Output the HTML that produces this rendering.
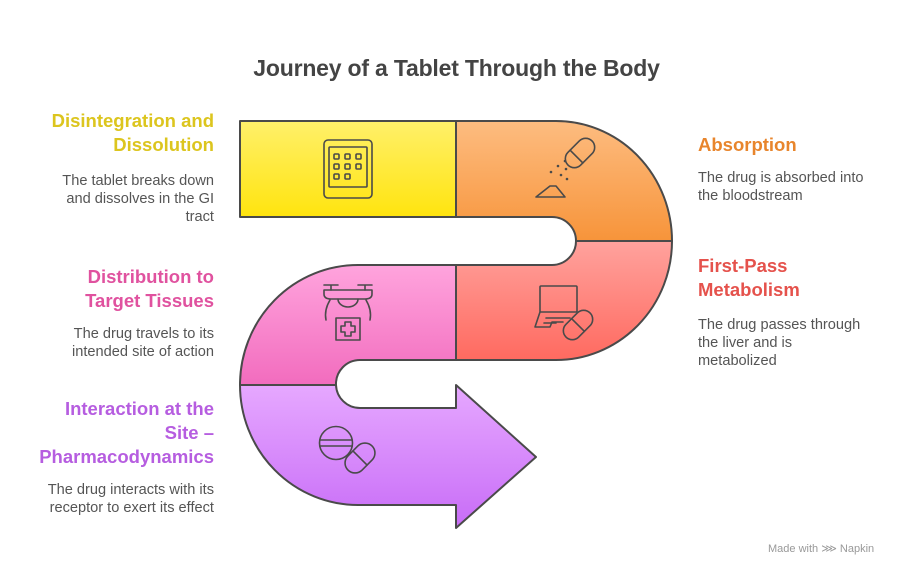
<!DOCTYPE html>
<html><head><meta charset="utf-8"><style>
body{margin:0;width:901px;height:577px;background:#fff;position:relative;overflow:hidden;font-family:"Liberation Sans",Arial,sans-serif}
.t{position:absolute;left:0;width:913px;text-align:center;top:53px;font-size:23px;font-weight:bold;color:#444;line-height:30px;letter-spacing:-0.2px}
.h{position:absolute;font-size:18.5px;font-weight:bold;line-height:24px}
.b{position:absolute;font-size:14.6px;color:#555;line-height:18px}
.l{right:687px;text-align:right}
.r{left:698px;text-align:left}
</style></head><body>
<div class="t">Journey of a Tablet Through the Body</div>

<div class="h l" style="top:109px;color:#DCC51E">Disintegration and<br>Dissolution</div>
<div class="b l" style="top:172px">The tablet breaks down<br>and dissolves in the GI<br>tract</div>

<div class="h l" style="top:265px;color:#E0529F">Distribution to<br>Target Tissues</div>
<div class="b l" style="top:325px">The drug travels to its<br>intended site of action</div>

<div class="h l" style="top:397px;color:#B65DE0">Interaction at the<br>Site –<br>Pharmacodynamics</div>
<div class="b l" style="top:481px">The drug interacts with its<br>receptor to exert its effect</div>

<div class="h r" style="top:133px;color:#E8852C">Absorption</div>
<div class="b r" style="top:169px">The drug is absorbed into<br>the bloodstream</div>

<div class="h r" style="top:254px;color:#E5524C">First-Pass<br>Metabolism</div>
<div class="b r" style="top:316px">The drug passes through<br>the liver and is<br>metabolized</div>

<div style="position:absolute;left:768px;top:542px;font-size:11px;color:#999">Made with ⋙ Napkin</div>

<svg width="901" height="577" style="position:absolute;left:0;top:0" fill="none">
<defs>
<linearGradient id="gy" x1="0" y1="0" x2="0" y2="1"><stop offset="0" stop-color="#FFF06A"/><stop offset="1" stop-color="#FFE40E"/></linearGradient>
<linearGradient id="go" x1="0" y1="0" x2="0" y2="1"><stop offset="0" stop-color="#FDBC80"/><stop offset="1" stop-color="#F7943A"/></linearGradient>
<linearGradient id="gr" x1="0" y1="0" x2="0" y2="1"><stop offset="0" stop-color="#FFA29D"/><stop offset="1" stop-color="#FF6A60"/></linearGradient>
<linearGradient id="gp" x1="0" y1="0" x2="0" y2="1"><stop offset="0" stop-color="#FFA4DD"/><stop offset="1" stop-color="#F26CBE"/></linearGradient>
<linearGradient id="gv" x1="0" y1="0" x2="0" y2="1"><stop offset="0" stop-color="#E6A8FF"/><stop offset="1" stop-color="#C86CF7"/></linearGradient>
</defs>
<g stroke="#4a4a4a" stroke-width="2" stroke-linejoin="round">
<rect x="240" y="121" width="216" height="96" fill="url(#gy)"/>
<path d="M456,121 H556 A116,120 0 0 1 672,241 H576 A24,24 0 0 0 552,217 H456 Z" fill="url(#go)"/>
<path d="M456,265 H552 A24,24 0 0 0 576,241 H672 A116,119 0 0 1 556,360 H456 Z" fill="url(#gr)"/>
<path d="M456,265 H358 A118,120 0 0 0 240,385 H336 A24,24 0 0 1 360,360 H456 Z" fill="url(#gp)"/>
<path d="M240,385 H336 A24,24 0 0 0 360,408 H456 V385 L536,457 L456,528 V505 H358 A118,120 0 0 1 240,385 Z" fill="url(#gv)"/>
</g>
<g stroke="#4a4a4a" stroke-width="1.6" stroke-linecap="round" stroke-linejoin="round">
<rect x="324" y="140" width="48" height="58" rx="4"/>
<rect x="329" y="147" width="38" height="40" rx="1"/>
<g>
<rect x="334" y="154" width="5" height="5" rx="1"/><rect x="345" y="154" width="5" height="5" rx="1"/><rect x="356" y="154" width="5" height="5" rx="1"/>
<rect x="334" y="164" width="5" height="5" rx="1"/><rect x="345" y="164" width="5" height="5" rx="1"/><rect x="356" y="164" width="5" height="5" rx="1"/>
<rect x="334" y="174" width="5" height="5" rx="1"/><rect x="345" y="174" width="5" height="5" rx="1"/>
</g>
<g transform="rotate(45 580 153)"><rect x="571" y="136" width="18" height="34" rx="9"/><line x1="571" y1="158" x2="589" y2="158"/></g>
<path d="M536,197 L550,186 L556,186 L565,197 Z"/>
<g fill="#4a4a4a" stroke="none"><circle cx="551" cy="172" r="1.3"/><circle cx="558" cy="166" r="1.3"/><circle cx="561" cy="175" r="1.3"/><circle cx="566" cy="169" r="1.3"/><circle cx="567" cy="179" r="1.3"/><circle cx="565" cy="161" r="1.3"/></g>
<rect x="540" y="286" width="37" height="26" rx="1"/>
<path d="M540,312 L535,327 L550,327 L552,322 L563,322"/>
<path d="M546,318 H570 M544,323 H556"/>
<g transform="rotate(45 578 325)"><rect x="569" y="308" width="18" height="34" rx="9"/><line x1="569" y1="325" x2="587" y2="325"/></g>
<path d="M324,285 H338 M358,285 H372 M331,285 V290 M365,285 V290"/>
<path d="M324,290 H372 V294 Q372,299 365,299 H331 Q324,299 324,294 Z"/>
<path d="M338,299 A10,8 0 0 0 358,299"/>
<path d="M330,300 Q324,310 326,320 M366,300 Q372,310 370,320"/>
<rect x="336" y="318" width="24" height="22"/>
<path d="M345,322 H351 V326 H355 V332 H351 V336 H345 V332 H341 V326 H345 Z"/>
<circle cx="336" cy="443" r="16.5"/>
<path d="M320,440 H352 M320,446 H352"/>
<g transform="rotate(45 360 458)"><rect x="350" y="441" width="20" height="34" rx="10"/><line x1="350" y1="458" x2="370" y2="458"/></g>
</g>
</svg>
</body></html>
